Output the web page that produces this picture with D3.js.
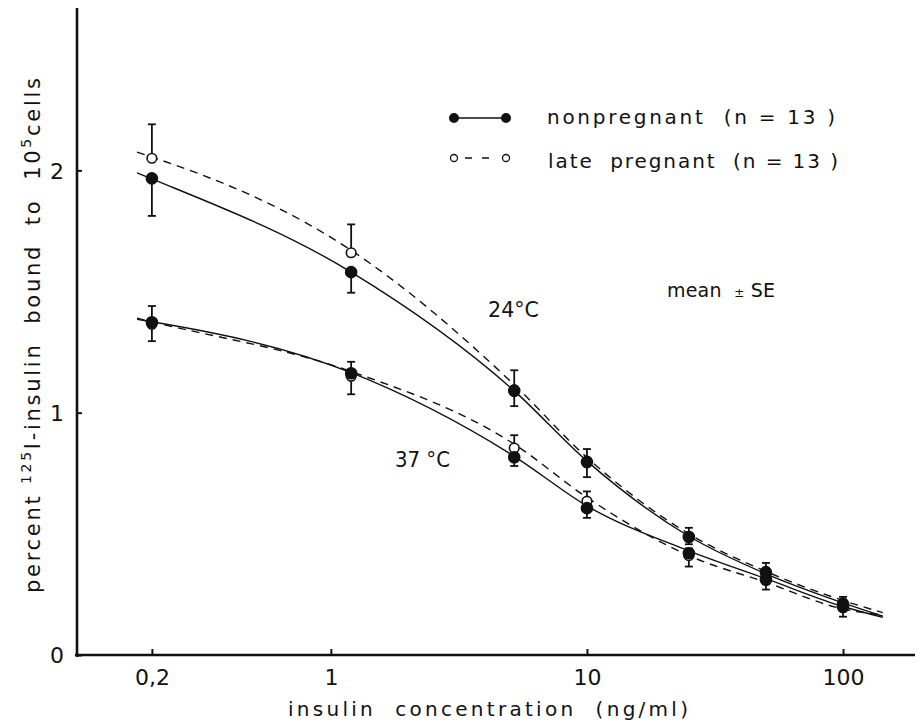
<!DOCTYPE html>
<html>
<head>
<meta charset="utf-8">
<script src="https://cdn.jsdelivr.net/npm/d3@7"></script>
<style>
    body { margin: 0; background: #fff; }
    svg { display: block; }
    text { font-family: "DejaVu Sans", sans-serif; fill: #111; white-space: pre; }
</style>
</head>
<body>
<div id="grafico"></div>
<script>

// insulin concentrations (ng/ml) of the measured points
let concentrations = [0.2, 1.2, 5.2, 10, 25, 50, 100];

// 24 °C, means and SE
let nonpregnant24 = [1.967, 1.58, 1.09, 0.796, 0.487, 0.34, 0.21];
let nonpregnant24SE = [0.155, 0.085, 0.063, 0.062, 0.03, 0.03, 0.02];
let pregnant24 = [2.05, 1.66, 1.095, 0.80, 0.49, 0.345, 0.215];
let pregnant24SE = [0.14, 0.117, 0.08, 0.05, 0.035, 0.035, 0.025];

// 37 °C, means and SE
let nonpregnant37 = [1.373, 1.163, 0.816, 0.606, 0.42, 0.31, 0.198];
let nonpregnant37SE = [0.078, 0.087, 0.036, 0.04, 0.055, 0.04, 0.04];
let pregnant37 = [1.365, 1.15, 0.854, 0.635, 0.41, 0.32, 0.2];
let pregnant37SE = [0.075, 0.06, 0.053, 0.04, 0.03, 0.03, 0.02];

// fitted curves
let fitConcentrations = [0.175, 0.2, 1.2, 5.2, 10, 25, 50, 100, 143];
let fitNonpregnant24 = [1.99, 1.965, 1.58, 1.09, 0.80, 0.49, 0.335, 0.215, 0.16];
let fitPregnant24 = [2.075, 2.055, 1.67, 1.115, 0.815, 0.50, 0.345, 0.225, 0.175];
let fitNonpregnant37 = [1.385, 1.375, 1.165, 0.82, 0.615, 0.43, 0.315, 0.20, 0.155];
let fitPregnant37 = [1.39, 1.375, 1.17, 0.87, 0.65, 0.41, 0.30, 0.19, 0.165];

// axis ticks
let xTicks = [0.2, 1, 10, 100];
let xTickLabels = ["0,2", "1", "10", "100"];
let yTicks = [0, 1, 2];

let width = 918;
let height = 722;

let svg = d3.select("#grafico")
    .append("svg")
    .attr("width", width)
    .attr("height", height);

// scales: log concentration, linear percent bound
let x = d3.scaleLog().domain([0.102, 191]).range([77, 915]);
let y = d3.scaleLinear().domain([0, 2.67]).range([655, 8]);

// axes
let xAxis = svg.append("g")
    .attr("transform", `translate(0, ${y(0)})`)
    .call(d3.axisBottom(x).tickValues(xTicks).tickSizeInner(-6).tickSizeOuter(0)
        .tickFormat((d, i) => xTickLabels[i]));
xAxis.select(".domain").attr("stroke", "#111").attr("stroke-width", 2.6).attr("d", `M${x.range()[0] - 2},0H${x.range()[1]}`);
xAxis.selectAll(".tick line").attr("stroke", "#111").attr("stroke-width", 2);
xAxis.selectAll(".tick text")
    .attr("y", 30)
    .attr("dy", 0)
    .style("font-size", "22px")
    .style("font-family", "DejaVu Sans");

let yAxis = svg.append("g")
    .attr("transform", `translate(${x.range()[0]}, 0)`)
    .call(d3.axisLeft(y).tickValues(yTicks).tickSizeInner(-5).tickSizeOuter(0).tickFormat(d3.format("d")));
yAxis.select(".domain").attr("stroke", "#111").attr("stroke-width", 2.6).attr("d", `M0,${y.range()[1]}V${y(0) + 2}`);
yAxis.selectAll(".tick line").attr("stroke", "#111").attr("stroke-width", 2);
yAxis.selectAll(".tick text")
    .attr("x", -13)
    .attr("dy", "0.36em")
    .style("font-size", "22px")
    .style("font-family", "DejaVu Sans");

// fitted curves
let curve = d3.line()
    .x((d) => x(d[0]))
    .y((d) => y(d[1]))
    .curve(d3.curveMonotoneX);

let curves = [
    { values: fitNonpregnant24, dashed: false },
    { values: fitPregnant24, dashed: true },
    { values: fitNonpregnant37, dashed: false },
    { values: fitPregnant37, dashed: true }
];

svg.append("g")
    .selectAll("path")
    .data(curves)
    .enter().append("path")
    .attr("d", (c) => curve(fitConcentrations.map((v, i) => [v, c.values[i]])))
    .attr("fill", "none")
    .attr("stroke", "#111")
    .attr("stroke-width", 1.4)
    .attr("stroke-dasharray", (c) => c.dashed ? "8,6" : null);

// error bars: open symbols upward, filled symbols downward
let series = [
    { means: pregnant24, se: pregnant24SE, filled: false },
    { means: pregnant37, se: pregnant37SE, filled: false },
    { means: nonpregnant24, se: nonpregnant24SE, filled: true },
    { means: nonpregnant37, se: nonpregnant37SE, filled: true }
];

let points = [];
series.forEach((s) => {
    concentrations.forEach((c, i) => {
        points.push({ c: c, m: s.means[i], se: s.se[i], filled: s.filled });
    });
});

let bars = svg.append("g")
    .selectAll("g")
    .data(points)
    .enter().append("g")
    .attr("stroke", "#111")
    .attr("stroke-width", 1.8);

bars.append("line")
    .attr("x1", (d) => x(d.c))
    .attr("x2", (d) => x(d.c))
    .attr("y1", (d) => y(d.m))
    .attr("y2", (d) => y(d.filled ? d.m - d.se : d.m + d.se));

bars.append("line")
    .attr("x1", (d) => x(d.c) - 4)
    .attr("x2", (d) => x(d.c) + 4)
    .attr("y1", (d) => y(d.filled ? d.m - d.se : d.m + d.se))
    .attr("y2", (d) => y(d.filled ? d.m - d.se : d.m + d.se));

// symbols
svg.append("g")
    .selectAll("circle")
    .data(points)
    .enter().append("circle")
    .attr("cx", (d) => x(d.c))
    .attr("cy", (d) => y(d.m))
    .attr("r", (d) => d.filled ? 5.5 : 4.8)
    .attr("fill", (d) => d.filled ? "#111" : "#fff")
    .attr("stroke", "#111")
    .attr("stroke-width", 1.6);

// legend
let legend = svg.append("g");

legend.append("line")
    .attr("x1", 454).attr("x2", 506).attr("y1", 118).attr("y2", 118)
    .attr("stroke", "#111").attr("stroke-width", 1.5);
legend.selectAll("circle.np")
    .data([454, 506])
    .enter().append("circle")
    .attr("cx", (d) => d).attr("cy", 118).attr("r", 5)
    .attr("fill", "#111");

legend.append("line")
    .attr("x1", 462).attr("x2", 498).attr("y1", 158).attr("y2", 158)
    .attr("stroke", "#111").attr("stroke-width", 1.3)
    .attr("stroke-dasharray", "7,10").attr("stroke-dashoffset", -3);
legend.selectAll("circle.lp")
    .data([454, 506])
    .enter().append("circle")
    .attr("cx", (d) => d).attr("cy", 158).attr("r", 3.5)
    .attr("fill", "#fff").attr("stroke", "#111").attr("stroke-width", 1.3);

legend.append("text")
    .attr("x", 547).attr("y", 124)
    .attr("textLength", 288).attr("lengthAdjust", "spacing")
    .style("font-size", "20px")
    .text("nonpregnant  (n = 13 )");

legend.append("text")
    .attr("x", 548).attr("y", 168)
    .attr("textLength", 290).attr("lengthAdjust", "spacing")
    .style("font-size", "20px")
    .text("late  pregnant  (n = 13 )");

// annotations
let meanLabel = svg.append("text")
    .attr("x", 667).attr("y", 297)
    .attr("textLength", 108).attr("lengthAdjust", "spacing")
    .style("font-size", "19px");
meanLabel.append("tspan").text("mean  ");
meanLabel.append("tspan").style("font-size", "12px").text("±");
meanLabel.append("tspan").text(" SE");

svg.append("text")
    .attr("x", 488).attr("y", 317)
    .attr("textLength", 51).attr("lengthAdjust", "spacingAndGlyphs")
    .style("font-size", "21px")
    .text("24°C");

svg.append("text")
    .attr("x", 395).attr("y", 467)
    .attr("textLength", 55).attr("lengthAdjust", "spacingAndGlyphs")
    .style("font-size", "21px")
    .text("37 °C");

// axis titles
svg.append("text")
    .attr("x", 288).attr("y", 716)
    .attr("textLength", 400).attr("lengthAdjust", "spacing")
    .style("font-size", "20px")
    .text("insulin  concentration  (ng/ml)");

let yTitle = svg.append("text")
    .attr("transform", "translate(40, 593) rotate(-90)")
    .attr("textLength", 515).attr("lengthAdjust", "spacing")
    .style("font-size", "21px");
yTitle.append("tspan").text("percent ");
yTitle.append("tspan").attr("dy", -9).style("font-size", "14px").text("125");
yTitle.append("tspan").attr("dy", 9).text("I-insulin  bound  to  10");
yTitle.append("tspan").attr("dy", -9).style("font-size", "14px").text("5");
yTitle.append("tspan").attr("dy", 9).text("cells");

</script>
</body>
</html>
